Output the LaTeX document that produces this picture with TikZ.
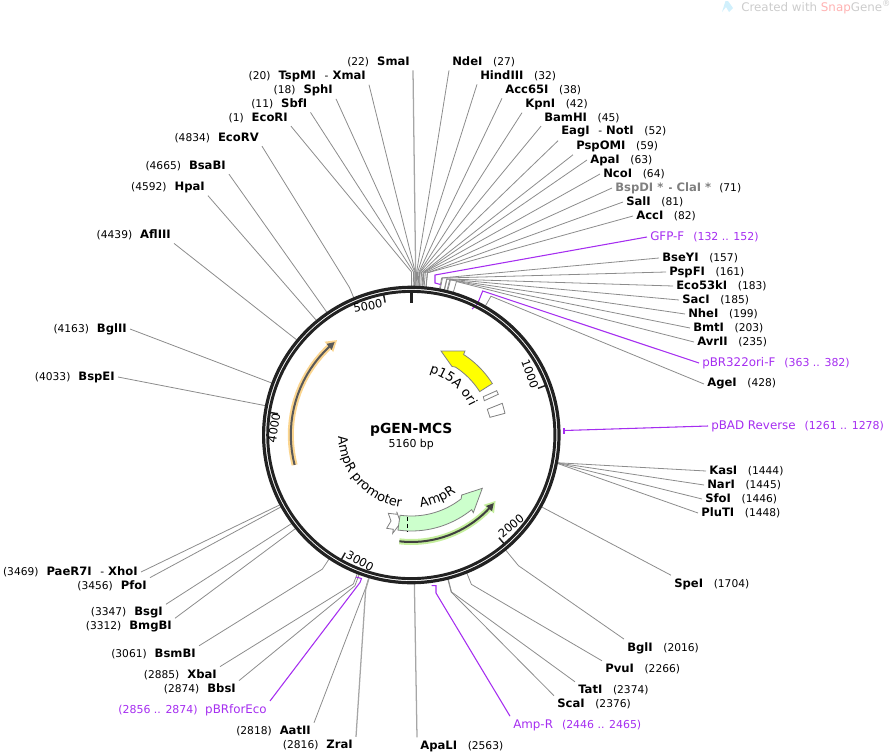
\documentclass[tikz,border=0pt]{standalone}
\usepackage{fontspec}
\setmainfont{DejaVu Sans}
\usepackage{xcolor}
\usepackage{tikz}
\usetikzlibrary{arrows.meta,decorations.text}
\definecolor{primer}{HTML}{A52DF0}
\definecolor{ringdark}{HTML}{222222}
\definecolor{oriyellow}{HTML}{FFFF00}
\definecolor{ampgreen}{HTML}{CCFFCC}
\definecolor{halogreen}{HTML}{C4EE9C}
\definecolor{halogold}{HTML}{FBD58F}
\newcommand{\namefont}{\fontsize{8.7}{10}\selectfont\bfseries}
\newcommand{\numfont}{\fontsize{8}{10}\selectfont\mdseries}
\newcommand{\rangefont}{\fontsize{8.2}{10}\selectfont}
\newcommand{\arcfont}{\fontsize{9.7}{11}\selectfont}
\newcommand{\siteR}[2]{{\namefont #1}\hspace{8pt}{\numfont (#2)}}
\newcommand{\siteL}[2]{{\numfont (#1)}\hspace{6pt}{\namefont #2}}
\newcommand{\dashgap}{\hspace{6.5pt}{\numfont -}\hspace{3pt}}
\tikzset{
    rsite/.style={anchor=west,inner sep=2.25pt,yshift=-0.75pt},
    lsite/.style={anchor=east,inner sep=2.25pt,yshift=-0.75pt},
    rprimer/.style={anchor=west,inner sep=2.25pt,yshift=-0.75pt,text=primer,font=\fontsize{8.9}{10}\selectfont},
    lprimer/.style={anchor=east,inner sep=2.25pt,yshift=-0.75pt,text=primer,font=\fontsize{8.9}{10}\selectfont},
    sitecut/.style={draw=black!45,line width=0.6pt},
    widecut/.style={draw=black!35,line width=0.95pt},
    primerline/.style={draw=primer,line width=0.8pt},
    feature/.style={draw=black!50,line width=0.6pt},
    ringline/.style={draw=ringdark},
    ticklab/.style={font=\fontsize{8.6}{10}\selectfont,inner sep=0pt}
}
\begin{document}
\begin{tikzpicture}[x=0.75pt,y=-0.75pt]
    \useasboundingbox (0,0) rectangle (892,753);
    \coordinate (mid) at (411.3,435);

    % Watermark
    \fill[cyan!18] (722,12) -- (725.5,1) -- (728,1) -- (733,8) -- (729,12) -- (726,7) -- cycle;
    \node[anchor=west,inner sep=0pt,text=black!20,font=\fontsize{8.9}{10}\selectfont] (mark) at (741,7)
        {Created with \textcolor{red!30}{Snap}Gene\textsuperscript{®}};

    % Sites, left
    \node[lsite] (SmaI) at (413,61) {\siteL{22}{SmaI}};
    \node[lsite] (XmaI) at (369,75) {\siteL{20}{TspMI\dashgap XmaI}};
    \node[lsite] (SphI) at (336,89) {\siteL{18}{SphI}};
    \node[lsite] (SbfI) at (310.5,103) {\siteL{11}{SbfI}};
    \node[lsite] (EcoRI) at (291,117) {\siteL{1}{EcoRI}};
    \node[lsite] (EcoRV) at (262,137) {\siteL{4834}{EcoRV}};
    \node[lsite] (BsaBI) at (229,165) {\siteL{4665}{BsaBI}};
    \node[lsite] (HpaI) at (208,186) {\siteL{4592}{HpaI}};
    \node[lsite] (AflIII) at (174,234) {\siteL{4439}{AflIII}};
    \node[lsite] (BglII) at (130,328) {\siteL{4163}{BglII}};
    \node[lsite] (BspEI) at (118,376) {\siteL{4033}{BspEI}};
    \node[lsite] (XhoI) at (141,571) {\siteL{3469}{PaeR7I\dashgap XhoI}};
    \node[lsite] (PfoI) at (150,585) {\siteL{3456}{PfoI}};
    \node[lsite] (BsgI) at (166,612) {\siteL{3347}{BsgI}};
    \node[lsite] (BmgBI) at (175,626) {\siteL{3312}{BmgBI}};
    \node[lsite] (BsmBI) at (199,653) {\siteL{3061}{BsmBI}};
    \node[lsite] (XbaI) at (220,674) {\siteL{2885}{XbaI}};
    \node[lsite] (BbsI) at (239,688) {\siteL{2874}{BbsI}};
    \node[lsite] (AatII) at (314,730) {\siteL{2818}{AatII}};
    \node[lsite] (ZraI) at (356,744) {\siteL{2816}{ZraI}};

    % Sites, right
    \node[rsite] (NdeI) at (449,61) {\siteR{NdeI}{27}};
    \node[rsite] (HindIII) at (477,75) {\siteR{HindIII}{32}};
    \node[rsite] (Acc65I) at (502,89) {\siteR{Acc65I}{38}};
    \node[rsite] (KpnI) at (522,103) {\siteR{KpnI}{42}};
    \node[rsite] (BamHI) at (541,117) {\siteR{BamHI}{45}};
    \node[rsite] (NotI) at (558,131) {\siteR{EagI\dashgap NotI}{52}};
    \node[rsite] (PspOMI) at (573,145) {\siteR{PspOMI}{59}};
    \node[rsite] (ApaI) at (587,159) {\siteR{ApaI}{63}};
    \node[rsite] (NcoI) at (600,173) {\siteR{NcoI}{64}};
    \node[rsite] (ClaI) at (612,187) {{\namefont\textcolor{black!50}{BspDI *}\hspace{4pt}{\numfont -}\hspace{3pt}\textcolor{black!50}{ClaI *}}\hspace{6pt}{\numfont (71)}};
    \node[rsite] (SalI) at (623,201) {\siteR{SalI}{81}};
    \node[rsite] (AccI) at (633,215) {\siteR{AccI}{82}};
    \node[rsite] (BseYI) at (659,257) {\siteR{BseYI}{157}};
    \node[rsite] (PspFI) at (666,271) {\siteR{PspFI}{161}};
    \node[rsite] (Eco53kI) at (673,285) {\siteR{Eco53kI}{183}};
    \node[rsite] (SacI) at (679,299) {\siteR{SacI}{185}};
    \node[rsite] (NheI) at (685,313) {\siteR{NheI}{199}};
    \node[rsite] (BmtI) at (690,327) {\siteR{BmtI}{203}};
    \node[rsite] (AvrII) at (694,341) {\siteR{AvrII}{235}};
    \node[rsite] (AgeI) at (704,383) {\siteR{AgeI}{428}};
    \node[rsite] (KasI) at (706,470) {\siteR{KasI}{1444}};
    \node[rsite] (NarI) at (704,484) {\siteR{NarI}{1445}};
    \node[rsite] (SfoI) at (702,498) {\siteR{SfoI}{1446}};
    \node[rsite] (PluTI) at (698,512) {\siteR{PluTI}{1448}};
    \node[rsite] (SpeI) at (671,583) {\siteR{SpeI}{1704}};
    \node[rsite] (BglI) at (624,647) {\siteR{BglI}{2016}};
    \node[rsite] (PvuI) at (602,668) {\siteR{PvuI}{2266}};
    \node[rsite] (TatI) at (575,689) {\siteR{TatI}{2374}};
    \node[rsite] (ScaI) at (554,703) {\siteR{ScaI}{2376}};
    \node[rsite] (ApaLI) at (417,745) {\siteR{ApaLI}{2563}};

    % Primer labels
    \node[rprimer] (GFPF) at (647,236) {GFP-F\hspace{6.75pt}{\rangefont (132 .. 152)}};
    \node[rprimer] (oriF) at (699,362) {pBR322ori-F\hspace{6.75pt}{\rangefont (363 .. 382)}};
    \node[rprimer] (pBAD) at (708,425) {pBAD Reverse\hspace{6.75pt}{\rangefont (1261 .. 1278)}};
    \node[rprimer] (AmpRp) at (510,724) {Amp-R\hspace{6.75pt}{\rangefont (2446 .. 2465)}};
    \node[lprimer] (pBRfor) at (270,709) {{\rangefont (2856 .. 2874)}\hspace{5.7pt}pBRforEco};

    % Connectors
    \foreach \site/\bp/\rr/\side/\kind in {
        SmaI/22/163/south east/widecut, XmaI/20/163/south east/sitecut, SphI/18/163/south east/sitecut,
        SbfI/11/163/south east/sitecut, EcoRI/1/163/south east/sitecut, EcoRV/4834/160/south east/sitecut,
        BsaBI/4665/149/south east/sitecut, HpaI/4592/149/south east/sitecut, AflIII/4439/149/south east/sitecut,
        BglII/4163/149/east/sitecut, BspEI/4033/149/east/sitecut, XhoI/3469/149/east/sitecut,
        PfoI/3456/149/north east/sitecut, BsgI/3347/149/north east/sitecut, BmgBI/3312/149/north east/sitecut,
        BsmBI/3061/161/north east/sitecut, XbaI/2885/160/north east/sitecut, BbsI/2874/161/north east/sitecut,
        AatII/2818/159/north east/sitecut, ZraI/2816/161/north east/widecut,
        NdeI/27/163/south west/sitecut, HindIII/32/163/south west/sitecut, Acc65I/38/163/south west/sitecut,
        KpnI/42/163/south west/sitecut, BamHI/45/163/south west/sitecut, NotI/52/163/south west/sitecut,
        PspOMI/59/163/south west/sitecut, ApaI/63/163/west/sitecut, NcoI/64/163/west/sitecut,
        ClaI/71/163/west/sitecut, SalI/81/163/west/sitecut, AccI/82/163/west/sitecut,
        BseYI/157/160/west/sitecut, PspFI/161/160/west/sitecut, Eco53kI/183/160/west/sitecut,
        SacI/185/160/west/sitecut, NheI/199/160/west/sitecut, BmtI/203/160/west/sitecut,
        AvrII/235/160/west/sitecut, AgeI/428/160/west/sitecut,
        KasI/1444/149/west/sitecut, NarI/1445/149/west/sitecut, SfoI/1446/149/west/sitecut, PluTI/1448/149/west/sitecut,
        SpeI/1704/149/north west/sitecut, BglI/2016/169/north west/sitecut, PvuI/2266/161/north west/sitecut,
        TatI/2374/162/north west/sitecut, ScaI/2376/162/north west/sitecut, ApaLI/2563/149/north west/widecut}{
        \coordinate (s\site) at ([shift={(mid)}]{\bp/5160*360-90}:149);
        \coordinate (e\site) at ([shift={(mid)}]{\bp/5160*360-90}:\rr);
        \draw[\kind] (\site.\side) -- (e\site) -- (s\site);
    }

    % Primers
    \coordinate (gfpA) at (435,275);
    \coordinate (gfpB) at (435,283);
    \coordinate (gfpC) at (440.5,284.5);
    \draw[primerline] (GFPF.west) -- (gfpA) -- (gfpB) -- (gfpC);
    \coordinate (oriA) at (482.7,291);
    \coordinate (oriB) at (477.5,304);
    \coordinate (oriC) at (472,309);
    \draw[primerline] (oriF.west) -- (oriA) -- (oriB) -- (oriC);
    \coordinate (badA) at (564,430.5);
    \coordinate (badB) at (564,428);
    \coordinate (badC) at (564,434);
    \draw[primerline] (pBAD.west) -- (badA);
    \draw[primerline,line width=1.2pt] (badB) -- (badC);
    \coordinate (ampA) at (436,593);
    \coordinate (ampB) at (436,585.7);
    \coordinate (ampC) at (431.5,585.7);
    \draw[primerline] (AmpRp.north west) -- (ampA) -- (ampB) -- (ampC);
    \coordinate (forA) at (360,582.5);
    \coordinate (forB) at (361.5,578.5);
    \coordinate (forC) at (356,577);
    \draw[primerline] (pBRfor.north east) -- (forA) -- (forB) -- (forC);

    % Ring
    \draw[ringline,line width=2.4pt] (mid) circle[radius=147.7];
    \draw[ringline,line width=2.2pt] (mid) circle[radius=143.6];
    \draw[ringline,line width=2.4pt] ([shift={(mid)}]-90:143) -- ([shift={(mid)}]-90:132);
    \foreach \bp in {1000,2000,3000,4000,5000}{
        \draw[ringline,line width=1.1pt] ([shift={(mid)}]{\bp/5160*360-90}:143) -- ([shift={(mid)}]{\bp/5160*360-90}:135);
    }
    \node[ticklab,rotate=-70] (t1000) at (530,374) {1000};
    \node[ticklab,rotate=40] (t2000) at (511,526) {2000};
    \node[ticklab,rotate=-29] (t3000) at (360,561) {3000};
    \node[ticklab,rotate=81] (t4000) at (274,428) {4000};
    \node[ticklab,rotate=11] (t5000) at (368,306) {5000};

    % Features
    \draw[feature,fill=oriyellow] plot[domain=-32.4:-57,samples=12] ({411.3+96*cos(\x)},{435+96*sin(\x)})
        -- (465,351) -- (441,351) -- (452,366.5)
        -- plot[domain=-57:-32.4,samples=12] ({411.3+81*cos(\x)},{435+81*sin(\x)}) -- cycle;
    \draw[feature,fill=white] (483.3,396.7) -- (496.7,390.7) -- (498.3,394.3) -- (484.3,400.7) -- cycle;
    \draw[feature,fill=white] (487.3,409.3) -- (502.3,403.3) -- (505,413.3) -- (490,417.3) -- cycle;
    \draw[feature,fill=white] (388.3,513.3) -- (397.3,514.3) -- (396.7,511.7) -- (400.7,522.7)
        -- (392.7,533.3) -- (393.3,529.3) -- (386.7,528.3) -- (391,521) -- cycle;
    \draw[feature,fill=ampgreen] plot[domain=98:52,samples=20] ({411.3+81*cos(\x)},{435+81*sin(\x)})
        -- (461.7,495) -- (482.3,488.3) -- (473.3,512.7)
        -- plot[domain=51:98,samples=20] ({411.3+96*cos(\x)},{435+96*sin(\x)}) -- cycle;
    \draw[black,densely dashed,line width=0.7pt] (407.3,517.3) -- (407.3,530.7);

    % Arcs with halo
    \draw[draw=halogreen,line width=4.5pt,-{Triangle[length=8pt,width=9.5pt]}]
        plot[domain=96.4:38,samples=20] ({411.3+107*cos(\x)},{435+107*sin(\x)});
    \draw[draw=black!75,line width=1.5pt,-{Triangle[length=5.5pt,width=5.5pt]}]
        plot[domain=96.4:39.5,samples=20] ({411.3+107*cos(\x)},{435+107*sin(\x)});
    \draw[draw=halogold,line width=4.5pt,-{Triangle[length=8pt,width=9.5pt]}]
        plot[domain=165.6:232,samples=20] ({411.3+120.5*cos(\x)},{435+120.5*sin(\x)});
    \draw[draw=black!65,line width=1.5pt,-{Triangle[length=5.5pt,width=5.5pt]}]
        plot[domain=165.6:230.5,samples=20] ({411.3+120.5*cos(\x)},{435+120.5*sin(\x)});

    % Curved labels
    \path[postaction={decorate,decoration={text along path,text align=center,text={|\arcfont|p15A ori}}}]
        plot[domain=-95:-5,samples=40] ({411.3+65*cos(\x)},{435+65*sin(\x)});
    \path[postaction={decorate,decoration={text along path,text align=center,text={|\arcfont|AmpR promoter}}}]
        plot[domain=190:87,samples=40] ({411.3+73*cos(\x)},{435+73*sin(\x)});
    \path[postaction={decorate,decoration={text along path,text align=center,text={|\arcfont|AmpR}}}]
        plot[domain=110:25,samples=40] ({411.3+73*cos(\x)},{435+73*sin(\x)});

    % Centre
    \node[font=\fontsize{10.4}{12}\selectfont\bfseries,inner sep=0pt] (title) at (411.3,430) {pGEN-MCS};
    \node[font=\fontsize{8.2}{10}\selectfont,inner sep=0pt] (size) at (411.3,444.5) {5160 bp};
\end{tikzpicture}
\end{document}
